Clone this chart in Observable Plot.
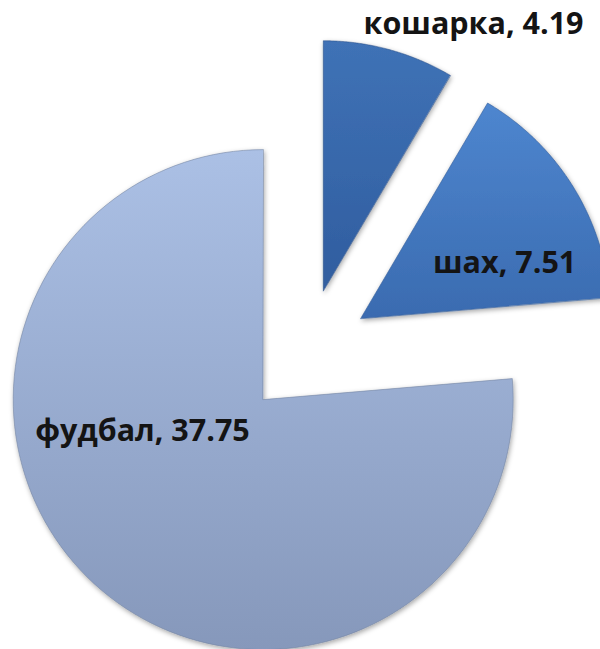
<!DOCTYPE html>
<html>
<head>
<meta charset="utf-8">
<script src="https://cdn.jsdelivr.net/npm/d3@7"></script>
<script src="https://cdn.jsdelivr.net/npm/@observablehq/plot@0.6"></script>
<style>
  html, body { margin: 0; padding: 0; background: #fff; }
  #chart svg { display: block; }
</style>
</head>
<body>
<div id="chart"></div>
<script>
// ---- data ----
const categories = ["кошарка", "шах", "фудбал"];
const values = [4.19, 7.51, 37.75];
const valueLabels = ["4.19", "7.51", "37.75"];

// ---- style / layout config ----
const gradientColors = [
  ["#3f72b6", "#305d9f"],   // кошарка
  ["#4e86cf", "#3a6bb0"],   // шах
  ["#abc0e5", "#8698bb"]    // фудбал
];
const edgeColors = ["#2a4f86", "#2f5a96", "#71829f"];
const explode = 0.256;           // in radius units
// label placement: polar position (degrees clockwise from north, radius units) from pie centre
const labelLayout = {
  "кошарка": {angle: 27, radius: 1.472},
  "шах": {angle: 65.8, radius: 0.869},
  "фудбал": {angle: 244.3, radius: 0.728}
};

const table = categories.map((c, i) => ({name: c, value: values[i], label: `${c}, ${valueLabels[i]}`}));
const arcs = d3.pie().sort(null).value(d => d.value).startAngle(0)(table);

const slicePoints = [];
for (const a of arcs) {
  const m = (a.startAngle + a.endAngle) / 2;
  const ox = explode * Math.sin(m), oy = explode * Math.cos(m);
  slicePoints.push({name: a.data.name, x: ox, y: oy});
  const n = 120;
  for (let k = 0; k <= n; k++) {
    const t = a.startAngle + (a.endAngle - a.startAngle) * k / n;
    slicePoints.push({name: a.data.name, x: ox + Math.sin(t), y: oy + Math.cos(t)});
  }
}

const labels = table.map(d => {
  const L = labelLayout[d.name];
  const t = L.angle * Math.PI / 180;
  return {label: d.label, x: L.radius * Math.sin(t), y: L.radius * Math.cos(t)};
});

const W = 600, H = 649, R = 250, CX = 306, CY = 352;

const svg = Plot.plot({
  width: W,
  height: H,
  margin: 0,
  style: {background: "white"},
  x: {domain: [-CX / R, (W - CX) / R], axis: null},
  y: {domain: [-(H - CY) / R, CY / R], axis: null},
  color: {domain: categories, range: categories.map((c, i) => `url(#grad${i})`)},
  marks: [
    Plot.line(slicePoints, {x: "x", y: "y", z: "name", fill: "name",
      stroke: d => edgeColors[categories.indexOf(d.name)], strokeWidth: 1, strokeOpacity: 0.55,
      curve: "linear-closed"}),
    Plot.text(labels, {x: "x", y: "y", text: "label", fontSize: 30.5, fontWeight: "bold",
      fontFamily: "Open Sans", fill: "#141414", textAnchor: "middle"})
  ]
});

// gradients and shading
const ns = "http://www.w3.org/2000/svg";
const defs = document.createElementNS(ns, "defs");
gradientColors.forEach((cols, i) => {
  const g = document.createElementNS(ns, "linearGradient");
  g.setAttribute("id", `grad${i}`);
  g.setAttribute("x1", "0"); g.setAttribute("y1", "0");
  g.setAttribute("x2", "0"); g.setAttribute("y2", "1");
  [[0, cols[0]], [1, cols[1]]].forEach(([o, c]) => {
    const s = document.createElementNS(ns, "stop");
    s.setAttribute("offset", o);
    s.setAttribute("stop-color", c);
    g.appendChild(s);
  });
  defs.appendChild(g);
});
const f = document.createElementNS(ns, "filter");
f.setAttribute("id", "shadow");
f.setAttribute("x", "-10%"); f.setAttribute("y", "-10%");
f.setAttribute("width", "120%"); f.setAttribute("height", "120%");
const ds = document.createElementNS(ns, "feDropShadow");
ds.setAttribute("dx", "1"); ds.setAttribute("dy", "2");
ds.setAttribute("stdDeviation", "2.5");
ds.setAttribute("flood-color", "#000");
ds.setAttribute("flood-opacity", "0.35");
f.appendChild(ds);
defs.appendChild(f);
svg.insertBefore(defs, svg.firstChild);
svg.querySelectorAll("g[aria-label='line'] path").forEach(p => p.setAttribute("filter", "url(#shadow)"));

document.getElementById("chart").appendChild(svg);
</script>
</body>
</html>
